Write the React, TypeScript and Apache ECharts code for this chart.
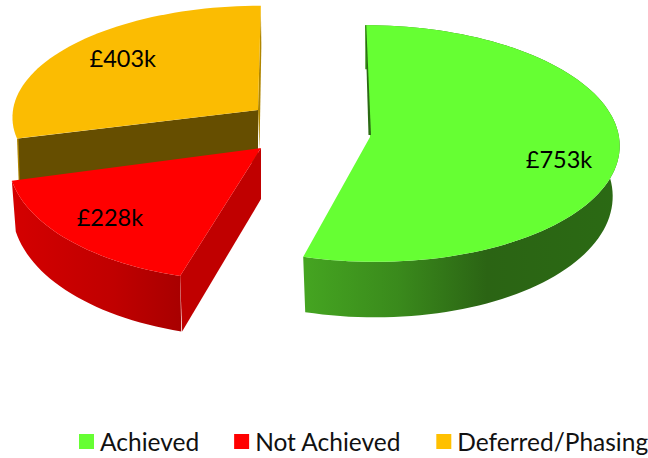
import React, { useEffect, useRef } from "react";
import * as echarts from "echarts";

const categories = ["Achieved", "Not Achieved", "Deferred/Phasing"];
const values = [753, 228, 403];
const dataLabels = ["£753k", "£228k", "£403k"];
const topColors = ["#66ff33", "#ff0000", "#fbbc02"];
const legendColors = ["#66ff33", "#ff0000", "#ffc000"];

const FONT = "Lato";
const DROP_K = 0.18;
const total = values.reduce((a, b) => a + b, 0);

type Geo = {
  ax: number; ay: number; rx: number; ry: number; k: number; skew: number;
  depth: number; shrink: number; labelR: number; labelDy: number;
  wallStops: [number, string][]; z: number;
};

const geometry: Geo[] = [
  { ax: 370, ay: 137, rx: 249, ry: 118, k: 0.055, skew: -5, depth: 50, shrink: 7, labelR: 0.76, labelDy: 10,
    wallStops: [[0, "#45a521"], [0.3, "#3a8a1c"], [0.58, "#2b6414"], [1, "#2b6a14"]], z: 1 },
  { ax: 261, ay: 148, rx: 252, ry: 126, k: 0.055, skew: 8, depth: 49, shrink: 4, labelR: 0.79, labelDy: -3,
    wallStops: [[0, "#d40000"], [0.6, "#c00000"], [1, "#a80000"]], z: 3 },
  { ax: 258, ay: 110, rx: 245, ry: 110, k: 0.055, skew: 3, depth: 52, shrink: 3, labelR: 0.72, labelDy: -5,
    wallStops: [[0, "#b08600"], [1, "#b08600"]], z: 2 },
];

function project(g: Geo, deg: number, r: number, shrink = 0, drop = 0) {
  const t = (deg * Math.PI) / 180;
  const u = Math.sin(t) * r;
  const v = Math.cos(t) * r;
  const w = 1 + g.k * v;
  const scale = (g.rx - shrink) / g.rx;
  return [
    g.ax + (g.rx * scale * u + g.skew * v) / w,
    g.ay + drop * (1 - DROP_K * v) - (g.ry * scale * v) / w,
  ];
}

function arc(g: Geo, from: number, to: number, shrink = 0, drop = 0) {
  const pts: number[][] = [];
  const n = Math.ceil(Math.abs(to - from) / 2);
  for (let i = 0; i <= n; i++) pts.push(project(g, from + ((to - from) * i) / n, 1, shrink, drop));
  return pts;
}

function makeRender(index: number) {
  return (_p: any, api: any) => {
    const g = geometry[index];
    const before = values.slice(0, index).reduce((a, b) => a + b, 0);
    const start = (before / total) * 360;
    const end = start + (api.value(0) / total) * 360;
    const mid = (start + end) / 2;
    const top = arc(g, start, end);
    const apex = project(g, 0, 0);
    const children: any[] = [];

    if (index !== 2) {
      const wall = [...top, ...arc(g, end, start, g.shrink, g.depth)];
      children.push({
        type: "polygon",
        shape: { points: wall },
        style: { fill: { type: "linear", x: 0, y: 0, x2: 1, y2: 0, colorStops: g.wallStops.map(([offset, color]) => ({ offset, color })) } },
      });
    }

    if (index === 1) {
      // the cut face on the right of the red slice
      const corner = project(g, start, 1);
      const cornerLow = project(g, start, 1, g.shrink, g.depth);
      children.push({
        type: "polygon",
        shape: { points: [apex, corner, [corner[0] + 2, cornerLow[1]], [apex[0], apex[1] + g.depth + 2]] },
        style: { fill: "#c00000" },
      });
    }
    if (index === 2) {
      // the cut face of the yellow slice, part of it behind the red slice
      const left = project(g, start, 1);
      children.push({
        type: "polygon",
        shape: { points: [left, [left[0] + 2, left[1] + g.depth], [left[0] + 4, left[1] + g.depth], [left[0] + 2, left[1]]] },
        style: { fill: "#b08600" },
      });
      children.push({
        type: "polygon",
        shape: { points: [[left[0] + 1.5, left[1]], apex, [apex[0], apex[1] + g.depth], [left[0] + 3, left[1] + g.depth]] },
        style: { fill: "#664e00" },
      });
      const corner = project(g, end, 1);
      children.push({
        type: "polygon",
        shape: { points: [corner, [corner[0] + 0.5, corner[1] + 40], [apex[0] + 1.5, apex[1] + g.depth - 12], apex] },
        style: { fill: "#b08600" },
      });
    }

    children.push({
      type: "polygon",
      shape: { points: [apex, ...top] },
      style: { fill: topColors[index] },
    });

    if (index === 0) {
      // the thin dark edge by the back of the green slice
      const corner = project(g, start, 1);
      children.push({
        type: "polygon",
        shape: { points: [corner, [corner[0] + 1, corner[1]], [apex[0] + 1, apex[1] - 2], [apex[0] - 1.5, apex[1] - 2]] },
        style: { fill: "#2b6a14" },
      });
    }

    const lp = project(g, mid, g.labelR);
    children.push({
      type: "text",
      style: {
        text: dataLabels[index],
        x: lp[0], y: lp[1] + g.labelDy,
        fill: "#000000",
        font: `23.5px ${FONT}`,
        textAlign: "center",
        textVerticalAlign: "middle",
      },
    });
    return { type: "group", children };
  };
}

export default function App() {
  const ref = useRef<HTMLDivElement>(null);
  useEffect(() => {
    document.body.style.margin = "0";
    const chart = echarts.init(ref.current!, null, { renderer: "svg" });
    chart.setOption({
      animation: false,
      backgroundColor: "#ffffff",
      legend: {
        data: categories,
        left: 79,
        top: 429,
        width: 600,
        itemWidth: 15,
        itemHeight: 15,
        itemGap: 35,
        icon: "rect",
        padding: 0,
        textStyle: { fontFamily: FONT, fontSize: 24.5, color: "#111111", padding: [0, 0, 0, 1] },
      },
      series: categories.map((name, i) => ({
        type: "custom",
        name,
        coordinateSystem: "none",
        z: geometry[i].z,
        itemStyle: { color: legendColors[i] },
        renderItem: makeRender(i),
        data: [[values[i]]],
      })),
    });
    return () => chart.dispose();
  }, []);
  return <div ref={ref} style={{ width: 648, height: 458 }} />;
}
